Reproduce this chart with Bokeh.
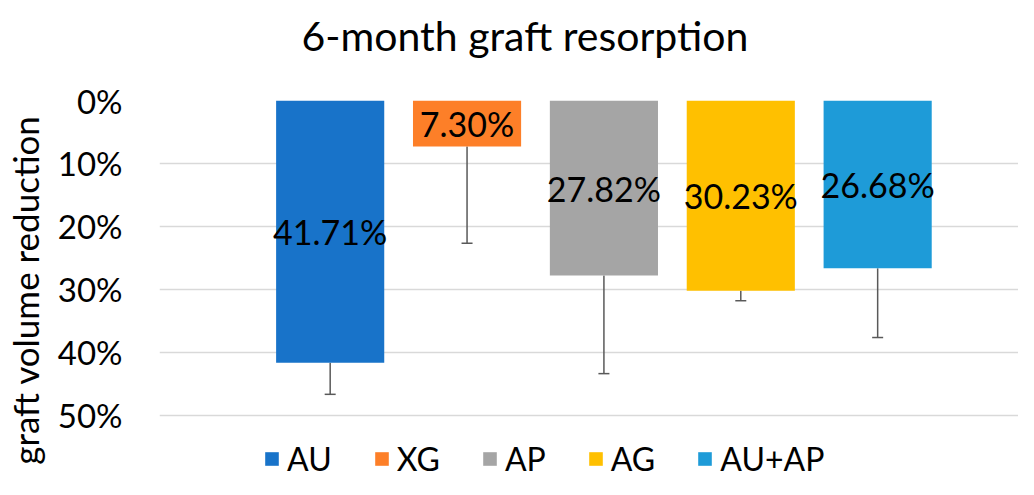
from bokeh.plotting import figure
from bokeh.models import (Range1d, FixedTicker, NumeralTickFormatter, Whisker, TeeHead,
                          ColumnDataSource, Legend, LegendItem, Title)
from bokeh.core.properties import value
from bokeh.embed import file_html
from bokeh.resources import INLINE

categories = ["AU", "XG", "AP", "AG", "AU+AP"]
means = [41.71, 7.30, 27.82, 30.23, 26.68]       # % graft volume reduction
errors = [5.0, 15.4, 15.6, 1.6, 11.0]            # upper error bar (%)
colors = ["#1873C9", "#FD7F28", "#A5A5A5", "#FFC000", "#1E9BD8"]
y_ticks = [0, 10, 20, 30, 40, 50]
title_text = "6-month graft resorption"

FONT = "Lato"

p = figure(width=1018, height=479, output_backend="svg", toolbar_location=None, title=None,
           x_range=Range1d(-0.247, 6.029), y_range=Range1d(0.6025, 0),
           min_border_left=155, min_border_right=0, min_border_top=100, min_border_bottom=0)
p.outline_line_color = None
p.xgrid.grid_line_color = None
p.ygrid.grid_line_color = "#D9D9D9"
p.ygrid.grid_line_width = 1.3
p.xaxis.visible = False

# spacer panel between the title and the plot frame
p.add_layout(Title(text=" ", text_font_size="1px", standoff=36), "above")
p.add_layout(Title(text=title_text, text_font=FONT, text_font_style="normal",
                   text_font_size="41px", text_color="#000000", align="left",
                   offset=142, standoff=4, vertical_align="bottom"), "above")

ya = p.yaxis[0]
ya.ticker = FixedTicker(ticks=[t / 100 for t in y_ticks])
ya.formatter = NumeralTickFormatter(format="0%")
ya.axis_line_color = None
ya.major_tick_line_color = None
ya.minor_tick_line_color = None
ya.major_label_standoff = 31
ya.major_label_text_font = FONT
ya.major_label_text_font_size = "33px"
ya.major_label_text_color = "#000000"
ya.axis_label = "graft volume reduction"
ya.axis_label_text_font = FONT
ya.axis_label_text_font_size = "35px"
ya.axis_label_text_font_style = "normal"
ya.axis_label_text_color = "#000000"
ya.axis_label_standoff = 9

xs = [i + 1 for i in range(len(categories))]
items = []
for i, (c, m, col) in enumerate(zip(categories, means, colors)):
    src = ColumnDataSource(dict(x=[xs[i]], top=[m / 100]))
    r = p.vbar(x="x", top="top", bottom=0, width=0.79, source=src,
               fill_color=col, line_color=None)
    items.append(LegendItem(label=c, renderers=[r]))

err_src = ColumnDataSource(dict(
    x=xs,
    lower=[m / 100 for m in means],
    upper=[(m + e) / 100 for m, e in zip(means, errors)],
))
w = Whisker(base="x", lower="lower", upper="upper", source=err_src, dimension="height",
            line_color="#595959", line_width=1.5,
            upper_head=TeeHead(size=11, line_color="#595959", line_width=1.5),
            lower_head=None)
p.add_layout(w)

lab_src = ColumnDataSource(dict(
    x=xs,
    y=[m / 200 for m in means],
    t=[f"{m:.2f}%" for m in means],
))
p.text(x="x", y="y", text="t", source=lab_src, text_align="center",
       text_baseline="middle", text_font=value(FONT), text_font_size="34px",
       text_color="#000000")

legend = Legend(items=items, orientation="horizontal", location=(104, 1),
                label_text_font=FONT, label_text_font_size="32px",
                label_text_color="#000000", glyph_width=17, glyph_height=17,
                label_standoff=7, spacing=41, padding=0, margin=0,
                border_line_color=None, background_fill_alpha=0)
p.add_layout(legend)

open("out.html", "w").write(file_html(p, INLINE))
